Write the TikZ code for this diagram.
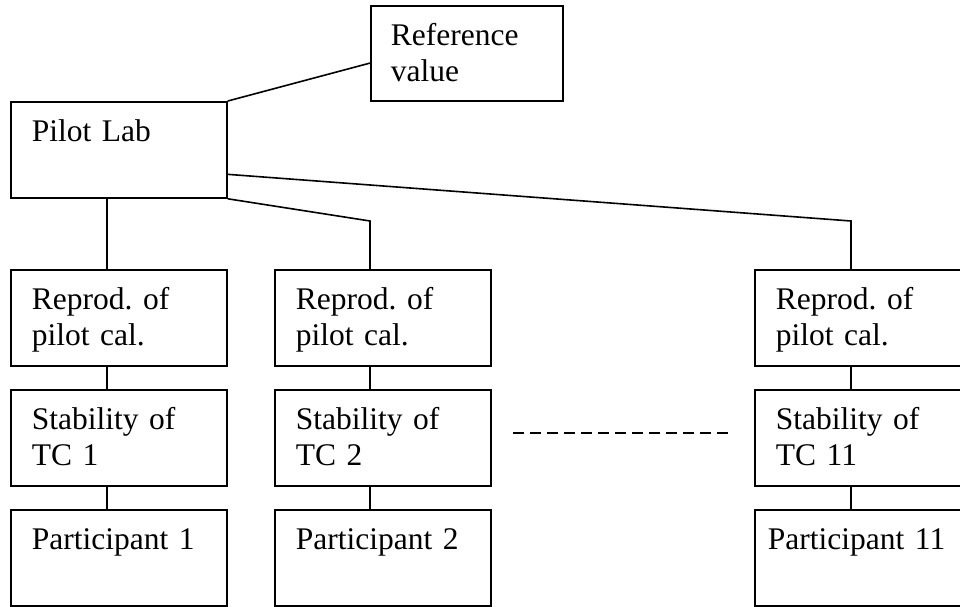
\documentclass[tikz,border=0pt]{standalone}
\usepackage{fontspec}
\setmainfont{Liberation Serif}
\usetikzlibrary{calc}
\tikzset{
  box/.style={draw, line width=1.8pt, rectangle, anchor=north west,
    font=\fontsize{31.5}{36}\selectfont\frenchspacing, align=left,
    inner xsep=21pt, inner ysep=0pt, text width=174pt,
    text height=40pt, text depth=56pt},
  conn/.style={line width=1.6pt},
  dots/.style={line width=1.6pt, dash pattern=on 11pt off 6pt}
}
\begin{document}
\begin{tikzpicture}[x=1pt,y=-1pt]
\useasboundingbox (0,0) rectangle (960,607);
% top boxes
\node[box, text width=152pt, inner xsep=20pt, text depth=55pt] (ref) at (370,5) {Reference\\value};
\node[box] (pilot) at (10,101) {Pilot Lab};
% column 1
\node[box] (r1) at (10,269) {Reprod. of\\pilot cal.};
\node[box] (s1) at (10,389) {Stability of\\TC 1};
\node[box] (p1) at (10,509) {Participant 1};
% column 2
\node[box] (r2) at (274,269) {Reprod. of\\pilot cal.};
\node[box] (s2) at (274,389) {Stability of\\TC 2};
\node[box] (p2) at (274,509) {Participant 2};
% column 3
\node[box] (r3) at (754,269) {Reprod. of\\pilot cal.};
\node[box] (s3) at (754,389) {Stability of\\TC 11};
\node[box, inner xsep=13pt, text width=190pt] (p3) at (754,509) {Participant 11};
% bend points
\coordinate (k2) at (370,221);
\coordinate (k3) at (851,221);
\coordinate (d1) at (513,433);
\coordinate (d2) at (730,433);
% connectors
\draw[conn] (pilot.north east) -- ($(ref.north west)!0.6!(ref.south west)$);
\draw[conn] ([xshift=97pt]pilot.south west) -- ([xshift=97pt]r1.north west);
\draw[conn] (pilot.south east) -- (k2) -- ([xshift=96pt]r2.north west);
\draw[conn] ($(pilot.north east)!0.75!(pilot.south east)$) -- (k3) -- ([xshift=97pt]r3.north west);
\draw[conn] ([xshift=97pt]r1.south west) -- ([xshift=97pt]s1.north west);
\draw[conn] ([xshift=97pt]s1.south west) -- ([xshift=97pt]p1.north west);
\draw[conn] ([xshift=96pt]r2.south west) -- ([xshift=96pt]s2.north west);
\draw[conn] ([xshift=96pt]s2.south west) -- ([xshift=96pt]p2.north west);
\draw[conn] ([xshift=97pt]r3.south west) -- ([xshift=97pt]s3.north west);
\draw[conn] ([xshift=97pt]s3.south west) -- ([xshift=97pt]p3.north west);
\draw[dots] (d1) -- (d2);
\end{tikzpicture}
\end{document}
